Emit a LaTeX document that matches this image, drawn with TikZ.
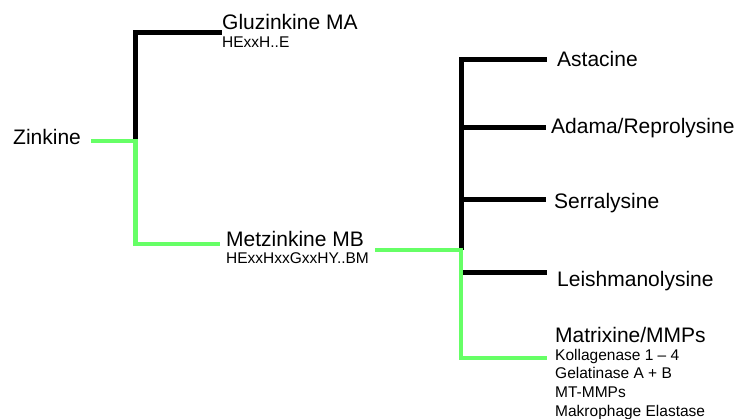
\documentclass[tikz,border=0pt]{standalone}
\usepackage{fontspec}
\setmainfont{Liberation Sans}
\definecolor{lgreen}{RGB}{102,255,102}
\begin{document}
\begin{tikzpicture}[x=1pt,y=-1pt,
  big/.style={anchor=base west,inner sep=0pt,font=\fontsize{21}{25}\selectfont},
  small/.style={anchor=base west,inner sep=0pt,font=\fontsize{15.5}{18.7}\selectfont},
  blk/.style={line width=5pt,black,line join=miter},
  grn/.style={line width=4.5pt,lgreen,line join=miter}]
\useasboundingbox (0,0) rectangle (738,419);
% text nodes
\node[big] (zink) at (13,145) {Zinkine};
\node[big] (gluz) at (222,30) {Gluzinkine MA};
\node[small] (gluzs) at (222,48) {HExxH..E};
\node[big] (metz) at (226,247) {Metzinkine MB};
\node[small] (metzs) at (226,263.5) {HExxHxxGxxHY..BM};
\node[big] (asta) at (557,67) {Astacine};
\node[big] (adam) at (551,134) {Adama/Reprolysine};
\node[big] (serr) at (554,209) {Serralysine};
\node[big] (leis) at (557,287) {Leishmanolysine};
\node[big] (matr) at (555,342) {Matrixine/MMPs};
\node[small] (koll) at (555,360) {Kollagenase 1 – 4};
\node[small] (gela) at (555,378.7) {Gelatinase A + B};
\node[small] (mtmm) at (555,397.4) {MT-MMPs};
\node[small] (makr) at (555,416) {Makrophage Elastase};
% connector points
\coordinate (zl) at (91,141);
\coordinate (j1) at (135.5,141);
\coordinate (ga) at (222,33);
\coordinate (mb) at (220,244);
\coordinate (mr) at (375,250);
\coordinate (j2) at (461,250);
\coordinate (ast) at (547,60);
\coordinate (ada) at (546,128);
\coordinate (ser) at (546,200);
\coordinate (lei) at (547,273);
\coordinate (mmp) at (547,358);
% black branches
\draw[blk] (j1) |- (ga);
\draw[blk] (j2) |- (ast);
\draw[blk] (j2 |- ada) -- (ada);
\draw[blk] (j2 |- ser) -- (ser);
\draw[blk] (j2 |- lei) -- (lei);
% green path
\draw[grn] (zl) -- (j1) |- (mb);
\draw[grn] (mr) -- (j2) |- (mmp);
\end{tikzpicture}
\end{document}
